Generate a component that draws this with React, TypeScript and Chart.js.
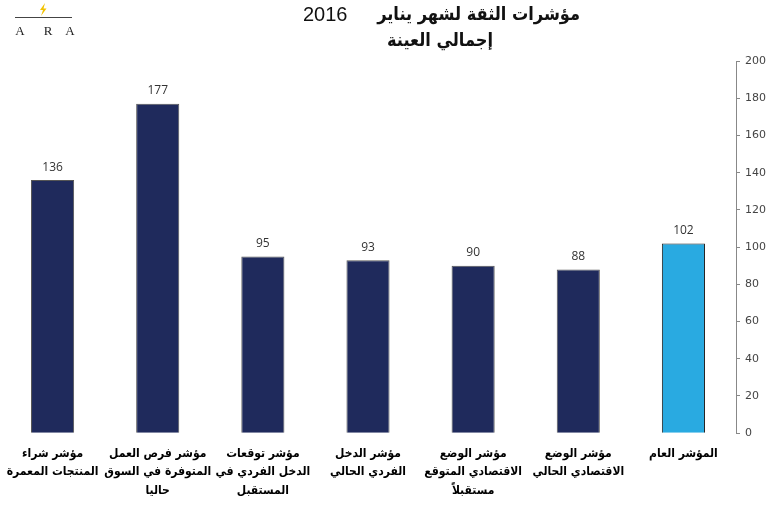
import React, { useEffect, useRef } from "react";
import { Chart, registerables } from "chart.js";

Chart.register(...registerables);

const categories: string[][] = [
  ["مؤشر شراء", "المنتجات المعمرة"],
  ["مؤشر فرص العمل", "المتوفرة في السوق", "حاليا"],
  ["مؤشر توقعات", "الدخل الفردي في", "المستقبل"],
  ["مؤشر الدخل", "الفردي الحالي"],
  ["مؤشر الوضع", "الاقتصادي المتوقع", "مستقبلاً"],
  ["مؤشر الوضع", "الاقتصادي الحالي"],
  ["المؤشر العام"],
];
const values: number[] = [136, 177, 95, 93, 90, 88, 102];
const barColors: string[] = ["#1f2a5c", "#1f2a5c", "#1f2a5c", "#1f2a5c", "#1f2a5c", "#1f2a5c", "#29aae1"];
const titleText = "مؤشرات الثقة لشهر يناير";
const titleYear = "2016";
const titleLine2 = "إجمالي العينة";
const logoLetters: string[] = ["A", "R", "A"];

const decorPlugin = {
  id: "decor",
  afterDatasetsDraw(chart: any) {
    const ctx = chart.ctx;
    const meta = chart.getDatasetMeta(0);
    ctx.save();
    // value labels
    ctx.font = "12px 'Open Sans'";
    ctx.fillStyle = "#333";
    ctx.textAlign = "center";
    ctx.textBaseline = "bottom";
    meta.data.forEach((bar: any, i: number) => {
      ctx.fillText(String(values[i]), bar.x, bar.y - 7);
    });
    // title
    ctx.fillStyle = "#111";
    ctx.textBaseline = "middle";
    ctx.direction = "rtl";
    ctx.textAlign = "right";
    ctx.font = "bold 18px 'DejaVu Sans Condensed', 'DejaVu Sans'";
    ctx.fillText(titleText, 580, 15);
    ctx.textAlign = "center";
    ctx.fillText(titleLine2, 440, 41);
    ctx.direction = "ltr";
    ctx.textAlign = "left";
    ctx.font = "20px 'Liberation Sans'";
    ctx.fillText(titleYear, 303, 15);
    // logo
    ctx.strokeStyle = "#444";
    ctx.lineWidth = 1.2;
    ctx.beginPath();
    ctx.moveTo(15, 17.5);
    ctx.lineTo(72, 17.5);
    ctx.stroke();
    ctx.fillStyle = "#f2c200";
    ctx.beginPath();
    ctx.moveTo(45, 3);
    ctx.lineTo(40, 10);
    ctx.lineTo(43, 10);
    ctx.lineTo(41, 16);
    ctx.lineTo(46.5, 8.5);
    ctx.lineTo(43.5, 8.5);
    ctx.closePath();
    ctx.fill();
    ctx.fillStyle = "#222";
    ctx.font = "13px 'Liberation Serif'";
    ctx.textAlign = "center";
    ctx.textBaseline = "middle";
    ctx.fillText(logoLetters[0], 20, 32);
    ctx.fillText(logoLetters[1], 48, 32);
    ctx.fillText(logoLetters[2], 70, 32);
    ctx.restore();
  },
};

export default function App() {
  const ref = useRef<HTMLCanvasElement>(null);
  useEffect(() => {
    if (!ref.current) return;
    const chart = new Chart(ref.current, {
      type: "bar",
      data: {
        labels: categories,
        datasets: [
          {
            data: values,
            backgroundColor: barColors,
            borderColor: ["#555", "#555", "#555", "#555", "#555", "#555", "#222"],
            borderWidth: 1,
            categoryPercentage: 1,
            barPercentage: 0.41,
          },
        ],
      },
      options: {
        responsive: false,
        animation: false,
        layout: { padding: { top: 61, right: 0, left: 0, bottom: 4 } },
        plugins: {
          legend: { display: false },
          title: { display: false },
          tooltip: { enabled: false },
        },
        scales: {
          x: {
            grid: { display: false },
            border: { display: false },
            ticks: {
              color: "#000",
              font: { family: "'DejaVu Sans Condensed', 'DejaVu Sans'", size: 12, weight: "bold", lineHeight: 1.55 },
              maxRotation: 0,
              autoSkip: false,
              padding: 3,
            },
          },
          y: {
            position: "right",
            min: 0,
            max: 200,
            afterFit: (scale: any) => {
              scale.width = 34;
            },
            grid: { drawOnChartArea: false, drawTicks: true, tickLength: 4, color: "#888" },
            border: { display: true, color: "#888" },
            ticks: {
              stepSize: 20,
              color: "#444",
              font: { family: "'DejaVu Sans'", size: 11 },
              padding: 5,
            },
          },
        },
      },
      plugins: [decorPlugin],
    });
    return () => chart.destroy();
  }, []);
  return (
    <div style={{ position: "absolute", left: 0, top: 0, width: 770, height: 507, background: "#fff" }}>
      <canvas ref={ref} width={770} height={507} />
    </div>
  );
}
